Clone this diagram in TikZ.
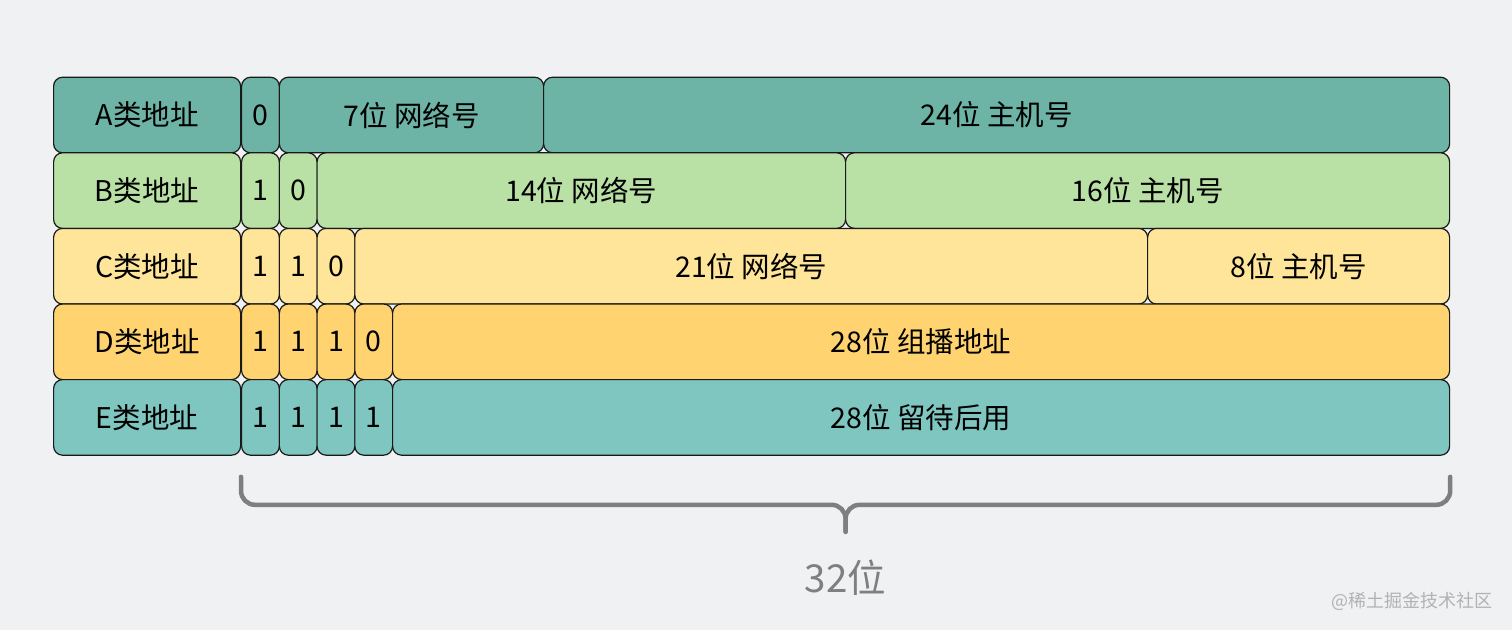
\documentclass[tikz,border=0pt]{standalone}
\usepackage{fontspec}
\setmainfont{Noto Sans CJK SC}
\usetikzlibrary{calc}
\definecolor{bgc}{HTML}{F0F1F3}
\definecolor{clsA}{HTML}{6DB4A6}
\definecolor{clsB}{HTML}{B9E0A5}
\definecolor{clsC}{HTML}{FFE599}
\definecolor{clsD}{HTML}{FFD470}
\definecolor{clsE}{HTML}{7FC5C0}
\definecolor{braceg}{HTML}{7F7F7F}

\begin{document}
\begin{tikzpicture}[
  x=1pt, y=-1pt,
  field/.style={draw=black!90, line width=1.2pt, rounded corners=9pt,
    minimum height=75.6pt, inner sep=0pt, anchor=west,
    font=\fontsize{28.5}{32}\selectfont},
  bracket line/.style={draw=braceg, line width=4.5pt, line cap=round,
    rounded corners=14pt},
]
\useasboundingbox[fill=bgc] (0,0) rectangle (1512,630);
% one row per address class: start bit / number of bits / text
\foreach \cls/\y/\c/\cells in {
  A/115.0/clsA/{0/1/0, 1/7/7位 网络号, 8/24/24位 主机号},
  B/190.6/clsB/{0/1/1, 1/1/0, 2/14/14位 网络号, 16/16/16位 主机号},
  C/266.2/clsC/{0/1/1, 1/1/1, 2/1/0, 3/21/21位 网络号, 24/8/8位 主机号},
  D/341.8/clsD/{0/1/1, 1/1/1, 2/1/1, 3/1/0, 4/28/28位 组播地址},
  E/417.4/clsE/{0/1/1, 1/1/1, 2/1/1, 3/1/1, 4/28/28位 留待后用}}
{
  \node[field, fill=\c, minimum width=187pt] (\cls lab) at (53,\y) {\cls{}类地址};
  \foreach \s/\l/\txt in \cells {
    \node[field, fill=\c, minimum width=\l*37.75pt] (\cls\s) at (241+\s*37.75,\y) {\txt};
  }
}
% 32 bits
\coordinate (bl) at ([yshift=-21pt]E0.south west);
\coordinate (br) at ([yshift=-21pt]E4.south east);
\coordinate (bmid) at ($(bl)!0.5!(br)+(0,28)$);
\coordinate (btip) at ($(bmid)+(0,27)$);
\draw[bracket line] (bl) |- (bmid) -- (btip);
\draw[bracket line] (br) |- (bmid) -- (btip);
\node[text=braceg, font=\fontsize{38.5}{42}\selectfont] (total) at ($(btip)+(0,46)$) {32位};
\node[text=black!30, font=\fontsize{18}{20}\selectfont] (mark) at (1412,601) {@稀土掘金技术社区};
\end{tikzpicture}
\end{document}
